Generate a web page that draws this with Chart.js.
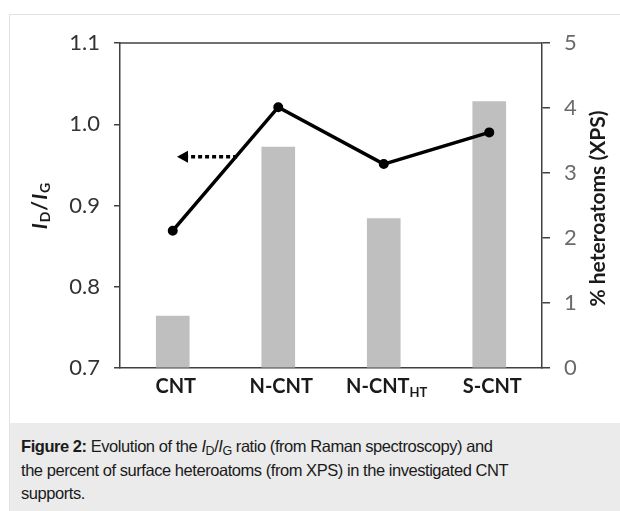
<!DOCTYPE html>
<html>
<head>
<meta charset="utf-8">
<script src="https://cdn.jsdelivr.net/npm/chart.js@4"></script>
<style>
  body { margin: 0; width: 620px; height: 511px; overflow: hidden; background: #fff; position: relative; }
  #frame { position: absolute; left: 9px; top: 14px; right: 0; bottom: 0; border-left: 1px solid #e2e2e2; border-top: 1px solid #e2e2e2; }
  #chart { position: absolute; left: 0; top: 0; }
  #caption {
    position: absolute; left: 10px; top: 423px; right: 0; bottom: 0;
    background: #ebebeb; padding: 12px 4px 0 11px; white-space: nowrap;
    font-family: "Liberation Sans", Arial, sans-serif; font-size: 16.5px; letter-spacing: -0.45px;
    line-height: 23.5px; color: #1a1a1a;
  }
  #caption sub { font-size: 12.5px; vertical-align: -3px; line-height: 0; }
</style>
</head>
<body>
<div id="frame"></div>
<canvas id="chart" width="620" height="423"></canvas>
<div id="caption"><b>Figure 2:</b> Evolution of the <i>I</i><sub>D</sub>/<i>I</i><sub>G</sub> ratio (from Raman spectroscopy) and<br>the percent of surface heteroatoms (from XPS) in the investigated CNT<br>supports.</div>
<script>
document.addEventListener("DOMContentLoaded", function() {

    // categories: [main text, subscript]
    const categories = ["CNT", "N-CNT", "N-CNT", "S-CNT"];
    const categorySubs = ["", "", "HT", ""];

    // ID/IG ratio (left axis)
    const ratioValues = [0.869, 1.021, 0.951, 0.990];
    // % heteroatoms (right axis)
    const heteroValues = [0.80, 3.40, 2.30, 4.10];

    const leftTicks = [0.7, 0.8, 0.9, 1.0, 1.1];
    const rightTicks = [0, 1, 2, 3, 4, 5];

    // dotted arrow pointing to the left axis (category index units, ratio units)
    const arrowX = [0.61, 0.04];
    const arrowY = [0.96, 0.96];

    const axisColor = "#404040";

    // axis titles, category labels, top border and arrow
    const extras = {
        id: "extras",
        beforeDatasetsDraw(chart) {
            const ctx = chart.ctx;
            const xs = chart.scales.x;
            const ys = chart.scales.y;
            const x1 = xs.getPixelForValue(arrowX[0]);
            const x2 = xs.getPixelForValue(arrowX[1]);
            const y1 = ys.getPixelForValue(arrowY[0]);
            ctx.save();
            ctx.strokeStyle = "#000";
            ctx.lineWidth = 3.5;
            ctx.setLineDash([4, 3]);
            ctx.beginPath();
            ctx.moveTo(x1, y1);
            ctx.lineTo(x2 + 10, y1);
            ctx.stroke();
            ctx.setLineDash([]);
            ctx.fillStyle = "#000";
            ctx.beginPath();
            ctx.moveTo(x2, y1);
            ctx.lineTo(x2 + 11, y1 - 6);
            ctx.lineTo(x2 + 11, y1 + 6);
            ctx.closePath();
            ctx.fill();
            ctx.restore();
        },
        afterDraw(chart) {
            const ctx = chart.ctx;
            const area = chart.chartArea;
            const xs = chart.scales.x;
            ctx.save();

            // top border
            ctx.strokeStyle = axisColor;
            ctx.lineWidth = 1.5;
            ctx.beginPath();
            ctx.moveTo(area.left, area.top);
            ctx.lineTo(area.right, area.top);
            ctx.stroke();

            // category labels
            ctx.fillStyle = "#1a1a1a";
            ctx.textBaseline = "middle";
            categories.forEach(function(c, i) {
                const cx = xs.getPixelForValue(i) + 3;
                ctx.font = "bold 20px Lato";
                const w1 = ctx.measureText(c).width;
                ctx.font = "bold 13px Lato";
                const w2 = categorySubs[i] ? ctx.measureText(categorySubs[i]).width : 0;
                const sx = cx - (w1 + w2) / 2;
                ctx.font = "bold 20px Lato";
                ctx.textAlign = "left";
                ctx.fillText(c, sx, area.bottom + 19);
                if (categorySubs[i]) {
                    ctx.font = "bold 13px Lato";
                    ctx.fillText(categorySubs[i], sx + w1, area.bottom + 25);
                }
            });

            // left title: ID/IG
            const parts = [
                ["I", "italic bold 21px Lato", 0],
                ["D", "bold 14px Lato", 5],
                ["/", "bold 21px Lato", 0],
                ["I", "italic bold 21px Lato", 0],
                ["G", "bold 14px Lato", 5]
            ];
            let total = 0;
            parts.forEach(function(p) { ctx.font = p[1]; total += ctx.measureText(p[0]).width + 1; });
            ctx.translate(40, (area.top + area.bottom) / 2);
            ctx.rotate(-Math.PI / 2);
            let px = -total / 2;
            parts.forEach(function(p) {
                ctx.font = p[1];
                ctx.fillText(p[0], px, p[2]);
                px += ctx.measureText(p[0]).width + 1;
            });
            ctx.setTransform(1, 0, 0, 1, 0, 0);

            // right title
            ctx.translate(598, (area.top + area.bottom) / 2 + 3);
            ctx.rotate(-Math.PI / 2);
            ctx.textAlign = "center";
            ctx.font = "bold 21px Lato";
            ctx.fillText("% heteroatoms (XPS)", 0, 0);
            ctx.restore();
        }
    };

    let ctx = document.getElementById("chart").getContext("2d");
    var chart = new Chart(ctx, {
        type: "bar",
        data: {
            labels: categories,
            datasets: [
                {
                    type: "line",
                    label: "ID/IG",
                    data: ratioValues,
                    yAxisID: "y",
                    borderColor: "#000",
                    backgroundColor: "#000",
                    borderWidth: 3.5,
                    pointRadius: 4,
                    pointBorderWidth: 2,
                    pointBackgroundColor: "#000",
                    tension: 0,
                    order: 0
                },
                {
                    type: "bar",
                    label: "% heteroatoms",
                    data: heteroValues,
                    yAxisID: "y2",
                    backgroundColor: "#bfbfbf",
                    barThickness: 33,
                    order: 1
                }
            ]
        },
        options: {
            responsive: false,
            animation: false,
            layout: { padding: { top: 43, left: 0, right: 0, bottom: 0 } },
            plugins: { legend: { display: false }, tooltip: { enabled: false } },
            scales: {
                x: {
                    offset: true,
                    grid: { display: false },
                    border: { display: true, color: axisColor, width: 1.5 },
                    ticks: { display: false },
                    afterFit: function(scale) { scale.height = 55; }
                },
                y: {
                    position: "left",
                    min: 0.7,
                    max: 1.1,
                    afterBuildTicks: function(scale) { scale.ticks = leftTicks.map(v => ({ value: v })); },
                    grid: { drawOnChartArea: false, drawTicks: true, tickLength: 6, color: axisColor, lineWidth: 1.5 },
                    border: { display: true, color: axisColor, width: 1.5 },
                    ticks: {
                        color: "#333",
                        font: { family: "Lato", size: 22 },
                        padding: 14,
                        callback: function(v) { return v.toFixed(1); }
                    },
                    afterFit: function(scale) { scale.width = 120; }
                },
                y2: {
                    position: "right",
                    min: 0,
                    max: 5,
                    afterBuildTicks: function(scale) { scale.ticks = rightTicks.map(v => ({ value: v })); },
                    grid: { drawOnChartArea: false, drawTicks: true, tickLength: 8, color: axisColor, lineWidth: 1.5 },
                    border: { display: true, color: axisColor, width: 1.5 },
                    ticks: {
                        color: "#6a6a6a",
                        font: { family: "Lato", size: 22 },
                        padding: 14,
                        callback: function(v) { return String(v); }
                    },
                    afterFit: function(scale) { scale.width = 78; }
                }
            }
        },
        plugins: [extras]
    });
});
</script>
</body>
</html>
